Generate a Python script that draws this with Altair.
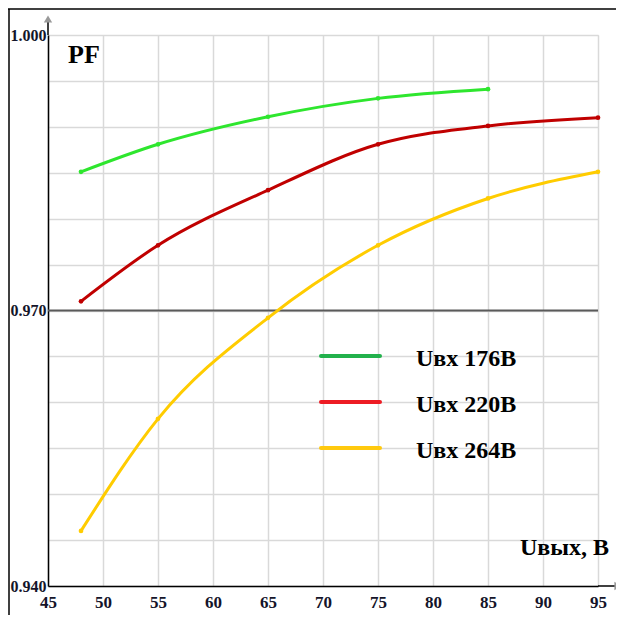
import altair as alt
import pandas as pd

# ---- data ----
u_out_176 = [48, 55, 65, 75, 85]
pf_176 = [0.9851, 0.9881, 0.9911, 0.9931, 0.9941]
u_out_220 = [48, 55, 65, 75, 85, 95]
pf_220 = [0.9710, 0.9771, 0.9831, 0.9881, 0.9901, 0.9910]
u_out_264 = [48, 55, 65, 75, 85, 95]
pf_264 = [0.9460, 0.9582, 0.9692, 0.9771, 0.9822, 0.9851]

series_names = ["Uвх 176В", "Uвх 220В", "Uвх 264В"]
line_colors = ["#2ee62e", "#c00000", "#ffcc00"]
legend_colors = ["#22b14c", "#ed1c24", "#ffc90e"]

x_ticks = [45, 50, 55, 60, 65, 70, 75, 80, 85, 90, 95]
y_grid = [0.940, 0.945, 0.950, 0.955, 0.960, 0.965, 0.970, 0.975,
          0.980, 0.985, 0.990, 0.995, 1.000]
y_labelled = [0.940, 0.970, 1.000]
ref_line_y = 0.970

rows = []
for name, xs, ys in [(series_names[0], u_out_176, pf_176),
                     (series_names[1], u_out_220, pf_220),
                     (series_names[2], u_out_264, pf_264)]:
    for xv, yv in zip(xs, ys):
        rows.append({"series": name, "u": xv, "pf": yv})
df = pd.DataFrame(rows)

FONT = "Liberation Serif"
W, H = 550, 551

label_check = " || ".join(f"abs(datum.value - {v}) < 1e-6" for v in y_labelled)

xenc = alt.X("u:Q", scale=alt.Scale(domain=[45, 95], nice=False, zero=False),
             axis=alt.Axis(values=x_ticks, title=None, grid=True,
                           gridColor="#d9d9d9", gridWidth=1.5,
                           domainColor="#000", domainWidth=1.5, ticks=False,
                           labelFont=FONT, labelFontSize=17, labelFontWeight="bold",
                           labelColor="#14142a", labelPadding=8, labelFlush=False,
                           format="d"))
yenc = alt.Y("pf:Q", scale=alt.Scale(domain=[0.94, 1.0], nice=False, zero=False),
             axis=alt.Axis(values=y_grid, title=None, grid=True,
                           gridColor="#d9d9d9", gridWidth=1.5,
                           domainColor="#000", domainWidth=1.5, ticks=False,
                           labelFont=FONT, labelFontSize=16, labelFontWeight="bold",
                           labelColor="#14142a", labelPadding=2, labelFlush=False,
                           labelExpr=f"({label_check}) ? format(datum.value, '.3f') : ''"))

color = alt.Color("series:N", scale=alt.Scale(domain=series_names, range=line_colors),
                  legend=None)

base = alt.Chart(df)
lines = base.mark_line(interpolate="monotone", strokeWidth=3).encode(
    x=xenc, y=yenc, color=color)
pts = base.mark_circle(size=22, opacity=1).encode(x="u:Q", y="pf:Q", color=color)

ref_df = pd.DataFrame({"x0": [x_ticks[0]], "x1": [x_ticks[-1]], "y": [ref_line_y]})
ref_rule = alt.Chart(ref_df).mark_rule(color="#5a5a5a", strokeWidth=2).encode(
    x="x0:Q", x2="x1:Q", y="y:Q")

one = pd.DataFrame({"k": [0]})
# axis extensions and arrows
y_ext = alt.Chart(one).mark_rule(color="#000", strokeWidth=1.5).encode(
    x=alt.value(0), y=alt.value(-16), y2=alt.value(0))
x_ext = alt.Chart(one).mark_rule(color="#000", strokeWidth=1.5).encode(
    x=alt.value(W), x2=alt.value(W + 18), y=alt.value(H))
y_arrow = alt.Chart(one).mark_point(shape="triangle-up", filled=True, size=70,
                                    color="#999999", opacity=1).encode(
    x=alt.value(0), y=alt.value(-16))
x_arrow = alt.Chart(one).mark_point(shape="triangle-right", filled=True, size=70,
                                    color="#999999", opacity=1).encode(
    x=alt.value(W + 20), y=alt.value(H))

# frame (left and top edges)
frame_l = alt.Chart(one).mark_rule(color="#000", strokeWidth=1.5).encode(
    x=alt.value(-39), y=alt.value(-26), y2=alt.value(H + 40))
frame_t = alt.Chart(one).mark_rule(color="#000", strokeWidth=1.5).encode(
    x=alt.value(-40), x2=alt.value(W + 20), y=alt.value(-26))

# texts
pf_title = alt.Chart(pd.DataFrame({"t": ["PF"]})).mark_text(
    font=FONT, fontSize=26, fontWeight="bold", align="left", baseline="alphabetic",
    color="#000").encode(text="t:N", x=alt.value(20), y=alt.value(28))
x_title = alt.Chart(pd.DataFrame({"t": ["Uвых, В"]})).mark_text(
    font=FONT, fontSize=24, fontWeight="bold", align="left", baseline="alphabetic",
    color="#000").encode(text="t:N", x=alt.value(472), y=alt.value(520))

# custom legend
legend_layers = []
for i, (name, col) in enumerate(zip(series_names, legend_colors)):
    ly = 321 + 46 * i
    d = pd.DataFrame({"name": [name]})
    legend_layers.append(alt.Chart(d).mark_rule(color=col, strokeWidth=4,
                                                strokeCap="round").encode(
        x=alt.value(273), x2=alt.value(332), y=alt.value(ly)))
    legend_layers.append(alt.Chart(d).mark_text(
        font=FONT, fontSize=24, fontWeight="bold", align="left",
        baseline="alphabetic", color="#000").encode(
        text="name:N", x=alt.value(368), y=alt.value(ly + 10)))

chart = alt.layer(ref_rule, lines, pts, y_ext, x_ext, y_arrow, x_arrow,
                  frame_l, frame_t, pf_title, x_title, *legend_layers).properties(
    width=W, height=H,
    autosize=alt.AutoSizeParams(type="none"),
    padding={"left": 40, "top": 27, "right": 18, "bottom": 29},
).configure_view(stroke=None).configure(background="white")

chart.save("out.html", embed_options={"renderer": "svg", "actions": False})
